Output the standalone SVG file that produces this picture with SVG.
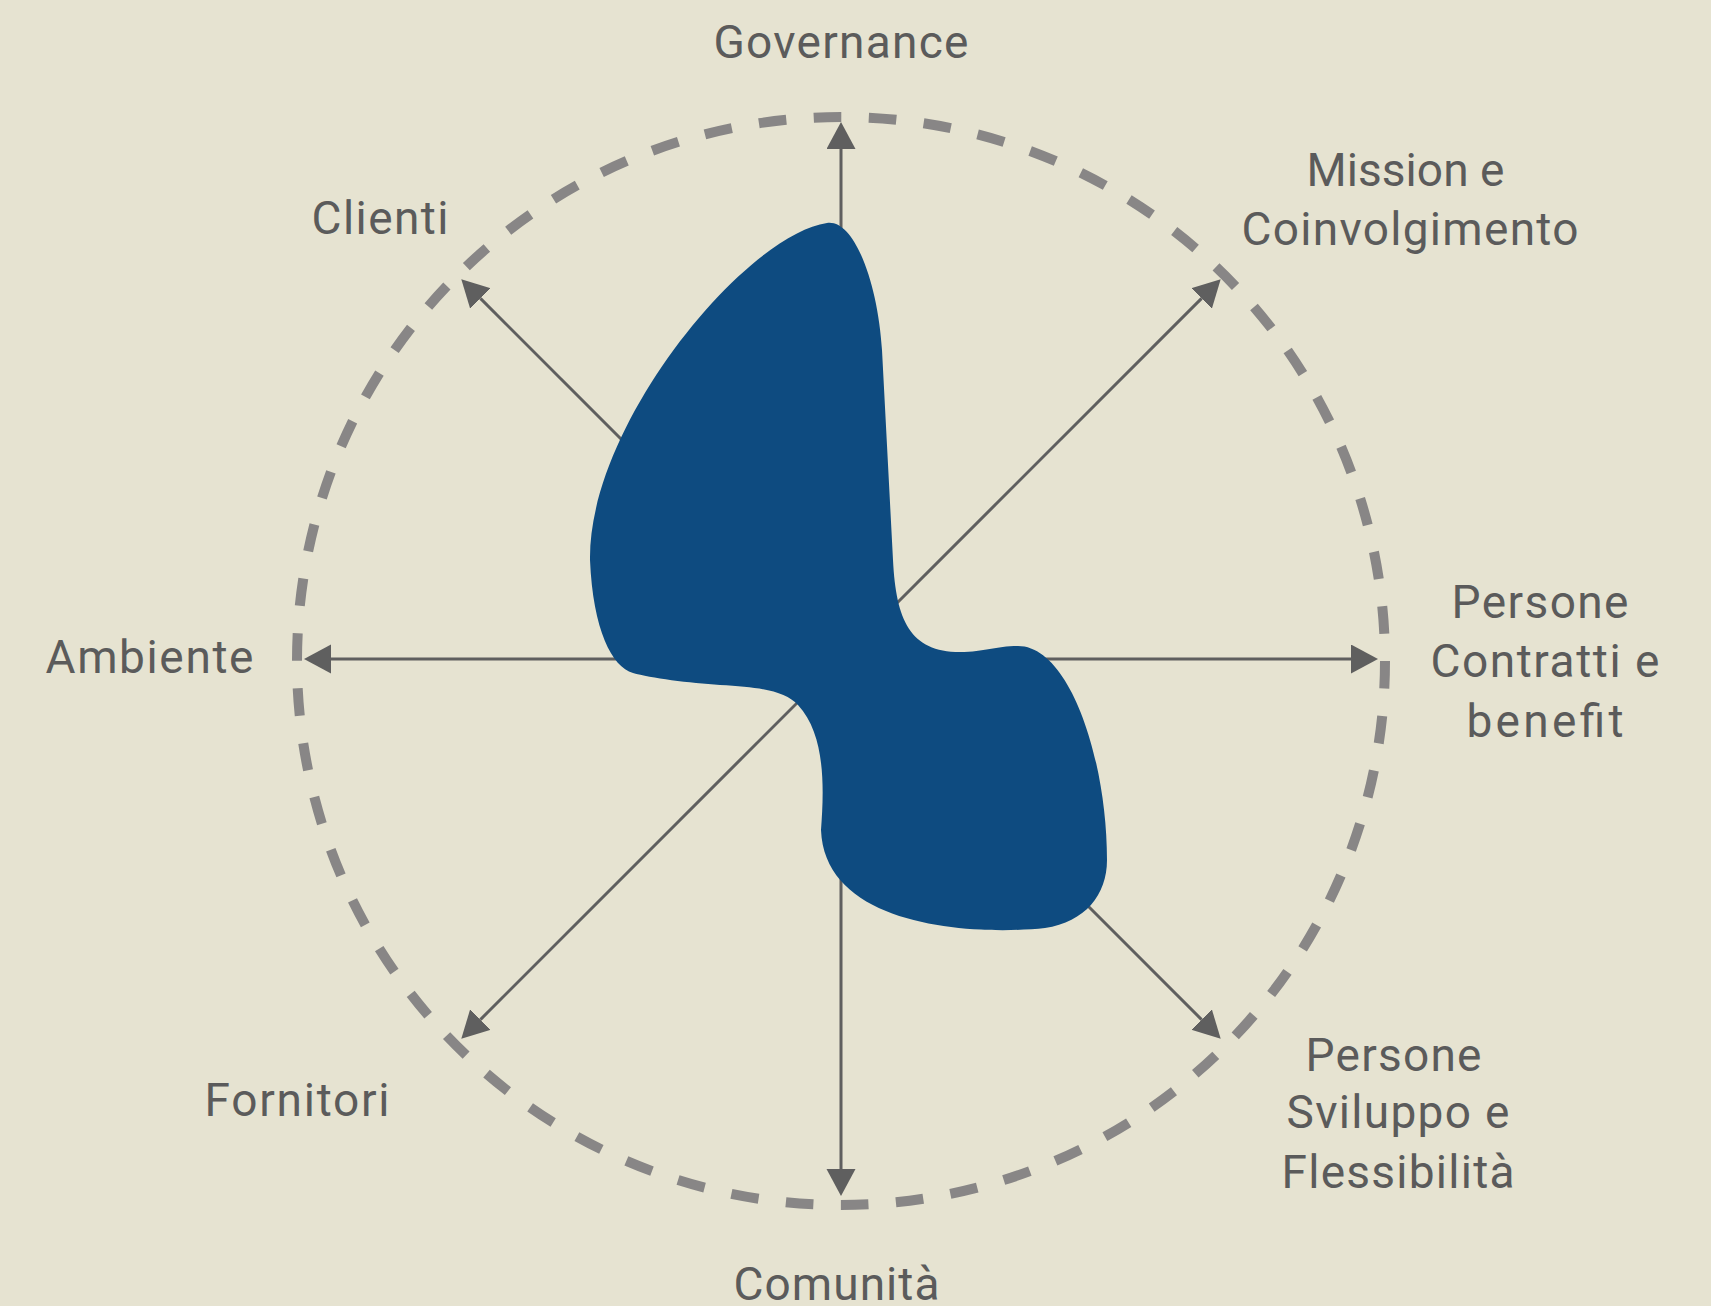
<svg xmlns="http://www.w3.org/2000/svg" width="1711" height="1306" viewBox="0 0 1711 1306">
  <defs>
    <style>
      .lbl { font-family: Roboto, "Liberation Sans", sans-serif; font-size: 46px; fill: #5b5b5b; text-anchor: middle; }
      .axis { stroke: #5f5f5f; stroke-width: 3; fill: none; marker-end: url(#arrow); }
      .ring { fill: none; stroke: #888686; stroke-width: 10; stroke-dasharray: 27.6 27.53; }
    </style>
    <marker id="arrow" markerUnits="userSpaceOnUse" markerWidth="28" markerHeight="30" refX="0" refY="14.5" orient="auto" viewBox="0 0 28 30">
      <path d="M0,0 L27,14.5 L0,29 Z" fill="#5f5f5f"/>
    </marker>
  </defs>
  <rect width="1711" height="1306" fill="#e6e3d1"/>

  <g id="ring">
    <circle class="ring" cx="841" cy="661" r="544"/>
  </g>

  <g id="connectors">
    <line class="axis" x1="841" y1="659" x2="841" y2="149"/>
    <line class="axis" x1="841" y1="659" x2="1201.6" y2="298.4"/>
    <line class="axis" x1="841" y1="659" x2="1351" y2="659"/>
    <line class="axis" x1="841" y1="659" x2="1201.6" y2="1019.6"/>
    <line class="axis" x1="841" y1="659" x2="841" y2="1169"/>
    <line class="axis" x1="841" y1="659" x2="480.4" y2="1019.6"/>
    <line class="axis" x1="841" y1="659" x2="331" y2="659"/>
    <line class="axis" x1="841" y1="659" x2="480.4" y2="298.4"/>
  </g>

  <g id="profile">
    <path fill="#0e4b80" d="M827,223 C855,219 878,285 882,350 L893,560 C896,620 910,652 960,652 C985,652 995,646 1018,646 C1070,646 1107,760 1107,860 C1107,895 1085,922 1045,928 C980,935 825,930 821,830 C824,790 826,735 798,705 C785,691 760,687 720,685 C690,683 650,678 633,673 C612,667 593,630 590,560 C588,425 745,235 827,223 Z"/>
  </g>

  <g id="label-governance"><text class="lbl" x="841" y="58" textLength="255">Governance</text></g>
  <g id="label-mission">
    <text class="lbl" x="1405.5" y="186" textLength="198">Mission e</text>
    <text class="lbl" x="1410" y="245" textLength="337">Coinvolgimento</text>
  </g>
  <g id="label-persone-contratti">
    <text class="lbl" x="1540" y="618" textLength="177">Persone</text>
    <text class="lbl" x="1545" y="677" textLength="229">Contratti e</text>
    <text class="lbl" x="1545" y="737" textLength="157">benefit</text>
  </g>
  <g id="label-persone-sviluppo">
    <text class="lbl" x="1393.5" y="1071" textLength="176">Persone</text>
    <text class="lbl" x="1398" y="1128" textLength="223">Sviluppo e</text>
    <text class="lbl" x="1398" y="1188" textLength="233">Flessibilità</text>
  </g>
  <g id="label-comunita"><text class="lbl" x="836.5" y="1300" textLength="206">Comunità</text></g>
  <g id="label-fornitori"><text class="lbl" x="297" y="1116" textLength="185">Fornitori</text></g>
  <g id="label-ambiente"><text class="lbl" x="149.5" y="673" textLength="208">Ambiente</text></g>
  <g id="label-clienti"><text class="lbl" x="380" y="234" textLength="137">Clienti</text></g>
</svg>
